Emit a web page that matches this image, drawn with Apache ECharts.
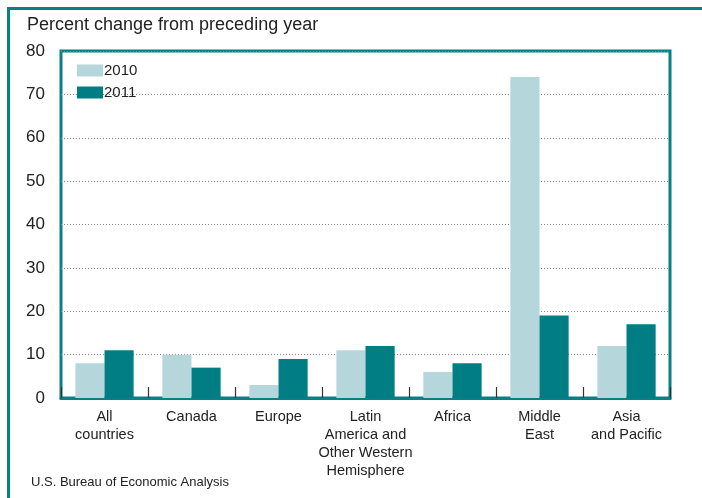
<!DOCTYPE html>
<html><head><meta charset="utf-8">
<script src="https://cdn.jsdelivr.net/npm/echarts@6/dist/echarts.min.js"></script>
<style>html,body{margin:0;padding:0;background:#fff}#c{width:702px;height:498px}</style>
</head><body><div id="c"></div>
<script>
const categories = ['All\ncountries','Canada','Europe','Latin\nAmerica and\nOther Western\nHemisphere','Africa','Middle\nEast','Asia\nand Pacific'];
const values2010 = [8, 10, 3, 11, 6, 74, 12];
const values2011 = [11, 7, 9, 12, 8, 19, 17];
const yTicks = [0, 10, 20, 30, 40, 50, 60, 70, 80];

const teal = '#0a7f86';
const font = 'Liberation Sans, Arial, sans-serif';
const chart = echarts.init(document.getElementById('c'), null, {renderer: 'canvas'});
chart.setOption({
  animation: false,
  textStyle: {fontFamily: font},
  graphic: [
    {type: 'polyline', shape: {points: [[8.5, 498], [8.5, 8.5], [702, 8.5]]}, style: {stroke: teal, lineWidth: 3, fill: null}, z: 10},
    {type: 'text', left: 27, top: 16, style: {text: 'Percent change from preceding year', fontSize: 18, fill: '#222', fontFamily: font}},
    {type: 'text', left: 31, top: 476, style: {text: 'U.S. Bureau of Economic Analysis', fontSize: 13, fill: '#222', fontFamily: font}}
  ],
  legend: {
    orient: 'vertical', left: 72, top: 58, itemWidth: 26, itemHeight: 12, itemGap: 7,
    icon: 'rect',
    textStyle: {fontSize: 15, color: '#222', padding: [0, 0, 0, -4], fontFamily: font},
    data: ['2010', '2011']
  },
  grid: {left: 61, right: 32, top: 51, bottom: 100, show: true, borderColor: teal, borderWidth: 3, containLabel: false},
  xAxis: {
    type: 'category', data: categories,
    axisLine: {show: true, lineStyle: {color: teal, width: 3}},
    axisTick: {show: true, inside: true, length: 11, lineStyle: {color: '#333', width: 1.2}},
    axisLabel: {fontSize: 14.5, color: '#222', lineHeight: 18, margin: 10, interval: 0, fontFamily: font}
  },
  yAxis: {
    type: 'value', min: 0, max: 80, interval: 10,
    axisLine: {show: false}, axisTick: {show: false},
    axisLabel: {fontSize: 17, color: '#222', margin: 16, fontFamily: font,
      formatter: v => yTicks.includes(v) ? String(v) : ''},
    splitLine: {show: true, lineStyle: {color: '#888', width: 1, type: [1, 2]}}
  },
  series: [
    {name: '2010', type: 'bar', data: values2010, itemStyle: {color: '#b5d7db'}, barGap: '0%', barCategoryGap: '33%'},
    {name: '2011', type: 'bar', data: values2011, itemStyle: {color: '#007e83'}, barGap: '0%', barCategoryGap: '33%'}
  ]
});
</script></body></html>
